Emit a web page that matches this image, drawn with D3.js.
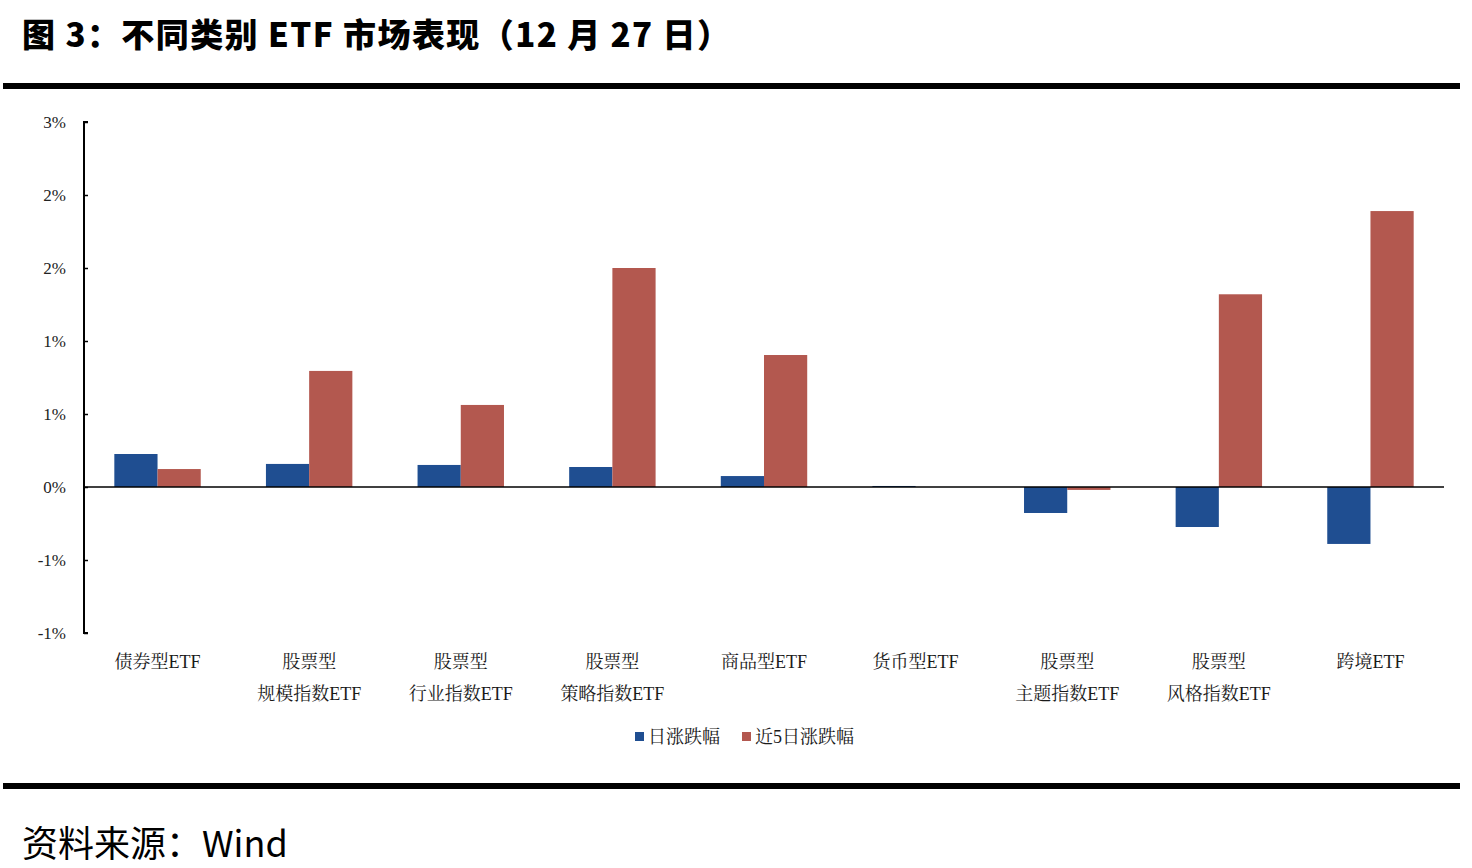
<!DOCTYPE html>
<html><head><meta charset="utf-8">
<script src="https://cdn.jsdelivr.net/npm/d3@7"></script>
<style>body{margin:0;background:#fff}svg{display:block}</style>
</head><body>
<svg id="c" width="1472" height="868"></svg>
<script>
const categories = [["债券型ETF"],["股票型","规模指数ETF"],["股票型","行业指数ETF"],["股票型","策略指数ETF"],["商品型ETF"],["货币型ETF"],["股票型","主题指数ETF"],["股票型","风格指数ETF"],["跨境ETF"]];
const dailyChange = [0.226, 0.158, 0.151, 0.137, 0.075, 0.007, -0.178, -0.274, -0.39];
const fiveDayChange = [0.123, 0.795, 0.562, 1.50, 0.904, 0, -0.02, 1.32, 1.89];
const seriesNames = ["日涨跌幅", "近5日涨跌幅"];
const yTicks = [-1.0, -0.5, 0, 0.5, 1.0, 1.5, 2.0, 2.5];
const yTickLabels = ["-1%", "-1%", "0%", "1%", "1%", "2%", "2%", "3%"];
const colors = ["#1f4e91", "#b3584f"];

const svg = d3.select("#c");
const serifCJK = "'Liberation Serif','Times New Roman','Noto Serif CJK SC','Noto Sans CJK SC',serif";

svg.append("text").attr("x", 22).attr("y", 47).attr("font-family", "'Noto Sans CJK SC',sans-serif")
  .attr("font-weight", 900).attr("font-size", 33).attr("fill", "#000")
  .attr("textLength", 708).attr("lengthAdjust", "spacing")
  .text("图 3：不同类别 ETF 市场表现（12 月 27 日）");
svg.append("rect").attr("x", 3).attr("y", 83).attr("width", 1457).attr("height", 6).attr("fill", "#000");
svg.append("rect").attr("x", 3).attr("y", 783).attr("width", 1457).attr("height", 6).attr("fill", "#000");
svg.append("text").attr("x", 22).attr("y", 857).attr("font-family", "'Noto Sans CJK SC',sans-serif")
  .attr("font-size", 36).attr("fill", "#000").text("资料来源：Wind");

const x = d3.scaleBand().domain(d3.range(categories.length)).range([84, 1444]).paddingInner(0.43).paddingOuter(0.2);
const y = d3.scaleLinear().domain([-1.0, 2.5]).range([633, 122]);

const g = svg.append("g");
const bw = x.bandwidth() / 2;
categories.forEach((c, i) => {
  [dailyChange[i], fiveDayChange[i]].forEach((v, k) => {
    g.append("rect").attr("x", x(i) + k * bw).attr("width", bw)
      .attr("y", y(Math.max(0, v))).attr("height", Math.abs(y(v) - y(0)))
      .attr("fill", colors[k]);
  });
});

const yAxis = d3.axisRight(y).tickValues(yTicks).tickSize(4).tickFormat((v, i) => yTickLabels[i]);
const ya = svg.append("g").attr("transform", "translate(84,0)").call(yAxis);
ya.select(".domain").attr("stroke", "#000").attr("stroke-width", 2).attr("d", "M4,122H0V633H4");
ya.selectAll(".tick line").attr("stroke", "#000").attr("stroke-width", 1.5);
ya.selectAll(".tick text").attr("x", -18).attr("text-anchor", "end").attr("dy", "0.32em")
  .attr("font-family", serifCJK).attr("font-size", 17).attr("fill", "#222");

svg.append("line").attr("x1", 84).attr("x2", 1444).attr("y1", y(0)).attr("y2", y(0)).attr("stroke", "#000").attr("stroke-width", 1.5);

const xl = svg.append("g");
categories.forEach((c, i) => {
  const cx = x(i) + x.bandwidth() / 2;
  const t = xl.append("text").attr("text-anchor", "middle")
    .attr("font-family", serifCJK).attr("font-size", 18).attr("fill", "#1a1a1a");
  c.forEach((line, j) => t.append("tspan").attr("x", cx).attr("y", 668 + j * 32).text(line));
});

const lg = svg.append("g");
const lx = [635, 742];
seriesNames.forEach((n, k) => {
  lg.append("rect").attr("x", lx[k]).attr("y", 732).attr("width", 9).attr("height", 9).attr("fill", colors[k]);
  lg.append("text").attr("x", lx[k] + 13).attr("y", 743).attr("font-family", serifCJK).attr("font-size", 18).attr("fill", "#1a1a1a").text(n);
});
</script>
</body></html>
